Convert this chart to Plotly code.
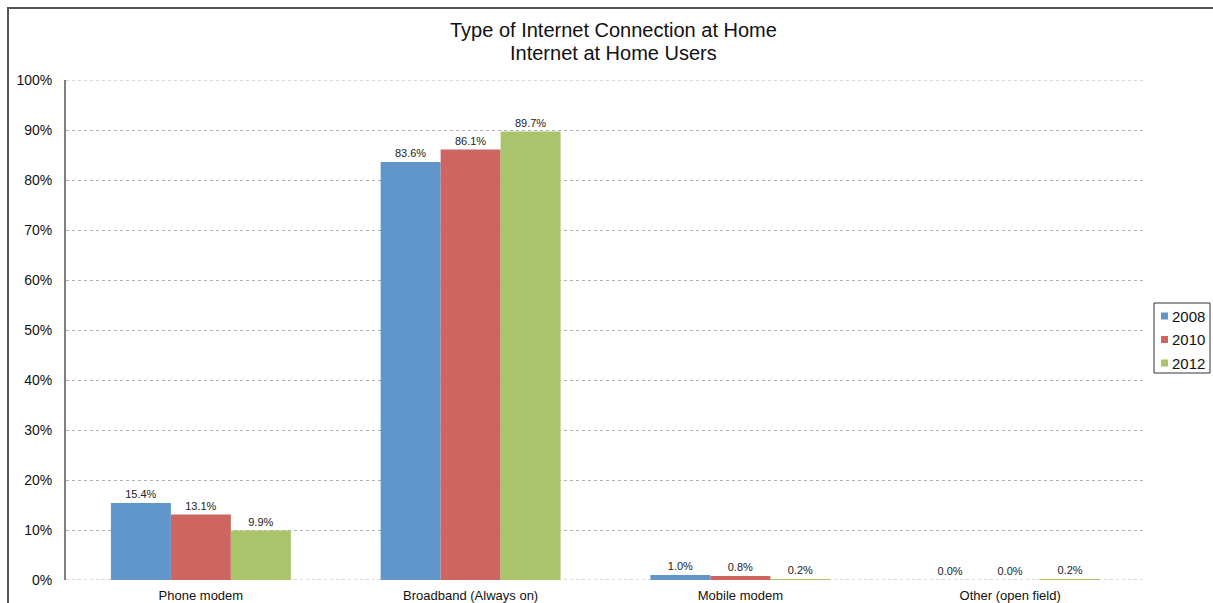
import plotly.graph_objects as go

categories = ["Phone modem", "Broadband (Always on)", "Mobile modem", "Other (open field)"]
years = ["2008", "2010", "2012"]
values_2008 = [15.4, 83.6, 1.0, 0.0]
values_2010 = [13.1, 86.1, 0.8, 0.0]
values_2012 = [9.9, 89.7, 0.2, 0.2]
y_ticks = [0, 10, 20, 30, 40, 50, 60, 70, 80, 90, 100]
y_tick_labels = [f"{v}%" for v in y_ticks]
title_lines = ["Type of Internet Connection at Home", "Internet at Home Users"]

series = [values_2008, values_2010, values_2012]
colors = ["#6196CA", "#CD6660", "#AAC46C"]

W, H = 1213, 603
L, R, T, B = 66, 68, 80, 23
GRID = "#b0b0b0"

fig = go.Figure()
for name, vals, col in zip(years, series, colors):
    fig.add_trace(go.Bar(
        x=categories, y=vals, name=name,
        marker=dict(color=col, line=dict(width=0)),
        texttemplate="%{y:.1f}%", textposition="outside",
        textfont=dict(size=11, color="#222222", family="Arial"),
        cliponaxis=False, showlegend=False,
    ))

pw = W - L - R
ph = H - T - B


def px_x(px):
    return (px - L) / pw


def px_y(py):
    return (H - B - py) / ph


shapes = [dict(
    type="rect", xref="paper", yref="paper",
    x0=px_x(8), x1=px_x(1230), y0=px_y(630), y1=px_y(8),
    line=dict(color="#555555", width=2), fillcolor="rgba(0,0,0,0)",
    layer="below",
)]
# gridlines at the ends of the value axis
for yv in (y_ticks[0], y_ticks[-1]):
    shapes.append(dict(
        type="line", xref="paper", yref="y", x0=0, x1=1, y0=yv, y1=yv,
        line=dict(color=GRID, width=1, dash="dot"), layer="below",
    ))

# two-line chart title
annotations = []
for i, line in enumerate(title_lines):
    annotations.append(dict(
        text=line, xref="paper", yref="paper", x=px_x(613), y=px_y(30 + i * 23),
        xanchor="center", yanchor="middle", showarrow=False,
        font=dict(size=20, color="#111111"),
    ))

# legend box with colour keys
shapes.append(dict(
    type="rect", xref="paper", yref="paper",
    x0=px_x(1154), x1=px_x(1210), y0=px_y(373), y1=px_y(303),
    line=dict(color="#333333", width=1), fillcolor="white",
))
for i, (name, col) in enumerate(zip(years, colors)):
    cy = 316 + i * 23.5
    shapes.append(dict(
        type="rect", xref="paper", yref="paper",
        x0=px_x(1161), x1=px_x(1168), y0=px_y(cy + 3.5), y1=px_y(cy - 3.5),
        line=dict(width=0), fillcolor=col,
    ))
    annotations.append(dict(
        text=name, xref="paper", yref="paper", x=px_x(1170), y=px_y(cy),
        xanchor="left", yanchor="middle", showarrow=False,
        font=dict(size=15, color="#111111"),
    ))

fig.update_layout(
    width=W, height=H,
    margin=dict(l=L, r=R, t=T, b=B, autoexpand=False),
    paper_bgcolor="white", plot_bgcolor="white",
    font=dict(family="Arial, Liberation Sans", color="#111111"),
    barmode="group", bargap=0.333, bargroupgap=0,
    showlegend=False,
    xaxis=dict(
        showgrid=False, showline=False, ticks="",
        tickfont=dict(size=13, color="#111111"),
        ticklabelstandoff=6,
    ),
    yaxis=dict(
        range=[0, 100], tickvals=y_ticks, ticktext=y_tick_labels,
        showgrid=True, gridcolor=GRID, griddash="dot", gridwidth=1,
        showline=True, linecolor="#808080", linewidth=2,
        ticks="", zeroline=False,
        tickfont=dict(size=14, color="#111111"),
        ticklabelstandoff=9,
    ),
    annotations=annotations,
    shapes=shapes,
)

fig.write_html("out.html")
